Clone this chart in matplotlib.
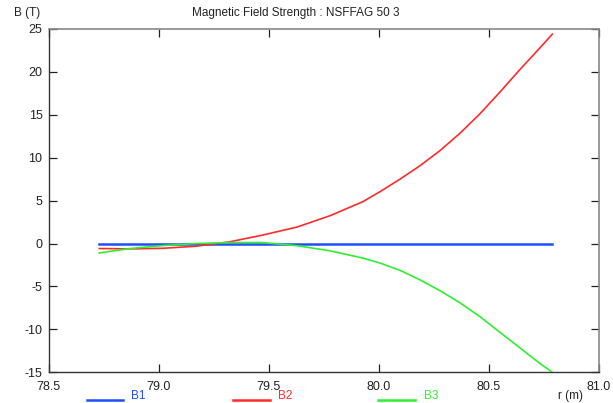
import matplotlib
matplotlib.use("Agg")
import matplotlib.pyplot as plt
from matplotlib.lines import Line2D

plt.rcParams['font.family'] = ['Liberation Sans', 'DejaVu Sans']

# Data
r = [78.73, 78.87, 79.02, 79.17, 79.32, 79.47, 79.63, 79.78, 79.93, 80.01,
     80.10, 80.19, 80.28, 80.37, 80.46, 80.55, 80.64, 80.73, 80.79]
B1 = [0.0] * len(r)
B2 = [-0.58, -0.62, -0.55, -0.31, 0.19, 0.97, 1.93, 3.25, 4.9, 6.1,
      7.55, 9.1, 10.85, 12.85, 15.1, 17.6, 20.2, 22.7, 24.4]
B3 = [-1.09, -0.58, -0.23, 0.0, 0.12, 0.12, -0.25, -0.85, -1.7, -2.3,
      -3.15, -4.25, -5.5, -6.9, -8.5, -10.3, -12.1, -13.9, -15.0]
series_names = ['B1', 'B2', 'B3']
series_colors = ['#1f4fff', '#ff2a2a', '#2ef02e']
xticks = [78.5, 79.0, 79.5, 80.0, 80.5, 81.0]
yticks = [-15, -10, -5, 0, 5, 10, 15, 20, 25]

W, H = 613, 403
fig = plt.figure(figsize=(W / 100, H / 100), dpi=100)
ax = fig.add_axes([48.7 / W, 1 - 372.3 / H, (598.5 - 48.7) / W, (372.3 - 29) / H])

ax.plot(r, B1, color=series_colors[0], lw=1.8, zorder=2)
ax.plot(r, B2, color=series_colors[1], lw=1.2, zorder=3)
ax.plot(r, B3, color=series_colors[2], lw=1.2, zorder=4)

ax.set_xlim(78.5, 81.0)
ax.set_ylim(-15, 25)
ax.set_xticks(xticks)
ax.set_yticks(yticks)
ax.set_xticklabels([f"{v:.1f}" for v in xticks])
ax.set_yticklabels([str(v) for v in yticks])
ax.tick_params(direction='in', length=5.5, width=0.9, top=True, right=True,
               labelsize=9, colors='#222222')
ax.tick_params(axis='y', pad=4.5)
ax.tick_params(axis='x', pad=6)
for s in ['left', 'bottom']:
    ax.spines[s].set_color('#333333')
    ax.spines[s].set_linewidth(1.0)
for s in ['top', 'right']:
    ax.spines[s].set_color('#888888')
    ax.spines[s].set_linewidth(1.2)

fig.text(296 / W, 1 - 13 / H, "Magnetic Field Strength : NSFFAG 50 3",
         ha='center', va='center', fontsize=8.5, color='#222222')
fig.text(14 / W, 1 - 13 / H, "B (T)", ha='left', va='center',
         fontsize=8.5, color='#222222')
fig.text(570 / W, 1 - 396 / H, "r (m)", ha='center', va='center',
         fontsize=8.5, color='#222222')

# legend below the axes
leg_x = [(87, 123, 131), (233, 270, 278), (378, 415, 424)]
for (x0, x1, xt), name, col in zip(leg_x, series_names, series_colors):
    fig.add_artist(Line2D([x0 / W, x1 / W], [1 - 399.5 / H, 1 - 399.5 / H],
                          color=col, lw=1.8, transform=fig.transFigure))
    fig.text(xt / W, 1 - 402 / H, name, ha='left', va='bottom',
             fontsize=8.5, color=col)

fig.savefig("out.png", dpi=100)
